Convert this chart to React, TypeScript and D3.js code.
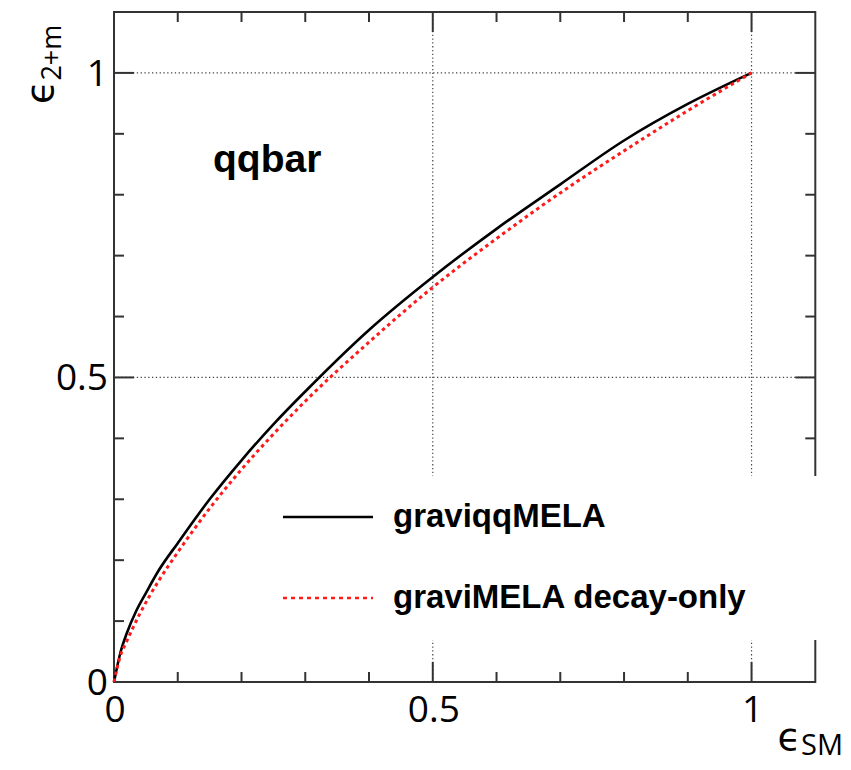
import React from "react";
import * as d3 from "d3";

const blackX = [0, 0.01, 0.02, 0.035, 0.05, 0.07, 0.1, 0.15, 0.2, 0.25, 0.3, 0.4, 0.5, 0.6, 0.7, 0.8, 0.9, 1];
const blackY = [0, 0.048, 0.08, 0.117, 0.146, 0.183, 0.228, 0.3, 0.364, 0.423, 0.477, 0.578, 0.665, 0.744, 0.817, 0.889, 0.949, 1];
const redX = [0, 0.01, 0.02, 0.04, 0.07, 0.1, 0.15, 0.2, 0.25, 0.3, 0.4, 0.5, 0.6, 0.7, 0.8, 0.9, 1];
const redY = [0, 0.043, 0.067, 0.111, 0.166, 0.213, 0.285, 0.349, 0.407, 0.461, 0.558, 0.648, 0.728, 0.803, 0.872, 0.938, 1];
const majorTicks = [0, 0.5, 1];
const majorLabels = ["0", "0.5", "1"];
const minorTicks = [0.1, 0.2, 0.3, 0.4, 0.6, 0.7, 0.8, 0.9, 1.0];
const gridTicks = [0.5, 1];
const legendNames = ["graviqqMELA", "graviMELA decay-only"];
const annotation = "qqbar";

const W = 851;
const H = 770;
const L = 114, R = 815.3, T = 12, B = 682;

export default function App() {
  const x = d3.scaleLinear().domain([0, 1.1]).range([L, R]);
  const y = d3.scaleLinear().domain([0, 1.1]).range([B, T]);
  const line = d3
    .line<[number, number]>()
    .x((d) => x(d[0]))
    .y((d) => y(d[1]))
    .curve(d3.curveMonotoneX);
  const blackPts = blackX.map((v, i) => [v, blackY[i]] as [number, number]);
  const redPts = redX.map((v, i) => [v, redY[i]] as [number, number]);
  const axisColor = "#333";
  const tickFont = "'Open Sans', 'DejaVu Sans', sans-serif";
  const legFont = "'Liberation Sans', Arial, sans-serif";
  const minor = 10, major = 20;
  const allTicks = [...minorTicks, 0, 0.5];

  return (
    <svg
      width={W}
      height={H}
      style={{ position: "absolute", left: 0, top: 0, background: "#fff" }}
    >
      <rect x={0} y={0} width={W} height={H} fill="#fff" />
      {/* grid */}
      {gridTicks.map((t) => (
        <g key={"g" + t}>
          <line x1={x(t)} x2={x(t)} y1={B} y2={T} stroke="#444" strokeWidth={1.2} strokeDasharray="1.3,2.5" />
          <line x1={L} x2={R} y1={y(t)} y2={y(t)} stroke="#444" strokeWidth={1.2} strokeDasharray="1.3,2.5" />
        </g>
      ))}
      {/* ticks on all four sides */}
      {allTicks.map((t) => {
        const len = majorTicks.includes(Math.round(t * 10) / 10) ? major : minor;
        return (
          <g key={"t" + t} stroke={axisColor} strokeWidth={2}>
            <line x1={x(t)} x2={x(t)} y1={B} y2={B - len} />
            <line x1={x(t)} x2={x(t)} y1={T} y2={T + len} />
            <line x1={L} x2={L + len} y1={y(t)} y2={y(t)} />
            <line x1={R} x2={R - len} y1={y(t)} y2={y(t)} />
          </g>
        );
      })}
      {/* frame */}
      <rect x={L} y={T} width={R - L} height={B - T} fill="none" stroke={axisColor} strokeWidth={2} />
      {/* curves */}
      <path d={line(blackPts) || ""} fill="none" stroke="#000" strokeWidth={2.6} />
      <path d={line(redPts) || ""} fill="none" stroke="#ff1a1a" strokeWidth={3} strokeDasharray="3.5,3.5" />
      {/* legend box */}
      <rect x={268} y={476} width={552} height={164} fill="#fff" />
      <line x1={283} x2={373} y1={517} y2={517} stroke="#000" strokeWidth={2.6} />
      <line x1={283} x2={373} y1={598} y2={598} stroke="#ff1a1a" strokeWidth={2.4} strokeDasharray="4,4" />
      <text x={393} y={527} fontFamily={legFont} fontWeight="bold" fontSize={33} fill="#000">
        {legendNames[0]}
      </text>
      <text x={393} y={608} fontFamily={legFont} fontWeight="bold" fontSize={33} fill="#000">
        {legendNames[1]}
      </text>
      {/* annotation */}
      <text x={213} y={172} fontFamily={legFont} fontWeight="bold" fontSize={39} fill="#000">
        {annotation}
      </text>
      {/* tick labels */}
      {majorTicks.map((t, i) => (
        <text key={"xl" + t} x={x(t) + 1} y={722} textAnchor="middle" fontFamily={tickFont} fontSize={37} fill="#000">
          {majorLabels[i]}
        </text>
      ))}
      {majorTicks.map((t, i) => (
        <text key={"yl" + t} x={L - 6} y={y(t) + 13} textAnchor="end" fontFamily={tickFont} fontSize={37} fill="#000">
          {majorLabels[i]}
        </text>
      ))}
      {/* axis titles */}
      <text transform="translate(53,104) rotate(-90)" fontFamily={tickFont} fill="#000">
        <tspan fontSize={38}>ϵ</tspan>
        <tspan fontSize={27} dy={8}>2+m</tspan>
      </text>
      <text x={843} y={750} textAnchor="end" fontFamily={tickFont} fill="#000">
        <tspan fontSize={38}>ϵ</tspan>
        <tspan fontSize={29} dy={5}>SM</tspan>
      </text>
    </svg>
  );
}
